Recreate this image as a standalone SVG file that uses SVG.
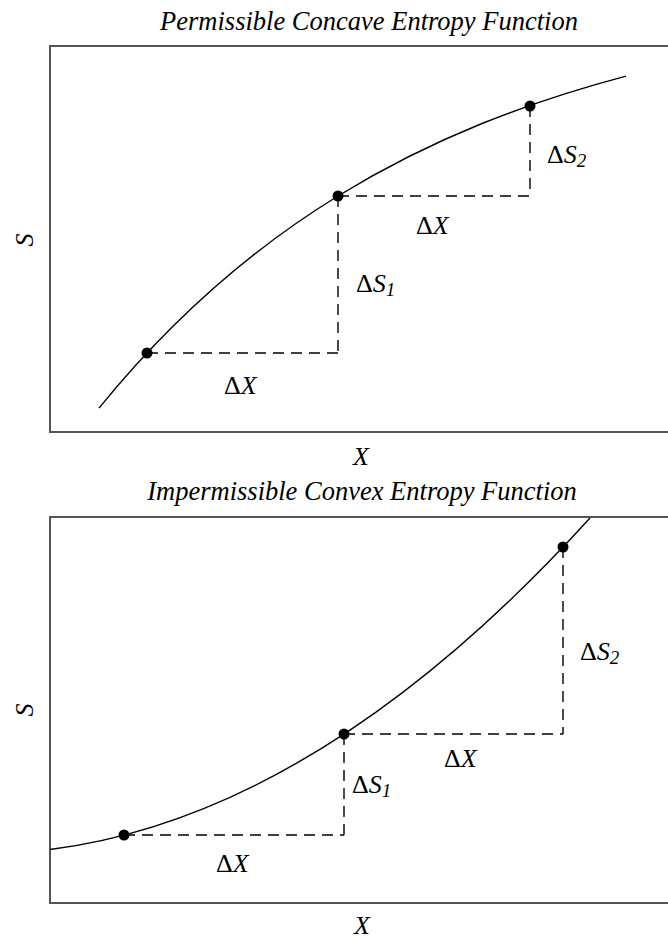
<svg xmlns="http://www.w3.org/2000/svg" width="668" height="940" viewBox="0 0 668 940" font-family="'Liberation Serif', 'DejaVu Serif', serif">
<style>
.frame{fill:none;stroke:#555;stroke-width:2}
.curve{fill:none;stroke:#000;stroke-width:1.4}
.dash{fill:none;stroke:#000;stroke-width:1.4;stroke-dasharray:11 7}
.dot{fill:#000}
text{font-family:'Liberation Serif','DejaVu Serif',serif;font-size:26px;fill:#000}
.it{font-style:italic}
.title{font-style:italic;font-size:26.5px;text-anchor:middle}
.sub{font-size:19px;font-style:italic}
</style>
<rect width="668" height="940" fill="#fff"/>
<g id="panel-top">
  <text class="title" x="369" y="30">Permissible Concave Entropy Function</text>
  <rect class="frame" x="50" y="46" width="640" height="386"/>
  <text class="it" transform="translate(33,240) rotate(-90)" text-anchor="middle">S</text>
  <text class="it" x="361" y="465" text-anchor="middle">X</text>
  <path id="curve-top" class="curve" d="M99,408.1 C178.67,310 258.33,244.95 338,196 C434,137 530,101.6 626,76.1"/>
</g>
<g id="connectors-top">
  <path class="dash" d="M147,353 H338"/>
  <path class="dash" d="M338,196 V353"/>
  <path class="dash" d="M338,196 H530"/>
  <path class="dash" d="M530,106 V196"/>
</g>
<g id="points-top">
  <circle class="dot" cx="147" cy="353" r="5.5"/>
  <circle class="dot" cx="338" cy="196" r="5.5"/>
  <circle class="dot" cx="530" cy="106" r="5.5"/>
</g>
<g id="labels-top">
  <text x="224" y="394">Δ<tspan class="it">X</tspan></text>
  <text x="416" y="234">Δ<tspan class="it">X</tspan></text>
  <text x="356" y="292">Δ<tspan class="it">S</tspan><tspan class="sub" dy="4">1</tspan></text>
  <text x="547" y="163">Δ<tspan class="it">S</tspan><tspan class="sub" dy="4">2</tspan></text>
</g>
<g id="panel-bottom">
  <text class="title" x="362" y="500">Impermissible Convex Entropy Function</text>
  <rect class="frame" x="50" y="517" width="640" height="386"/>
  <text class="it" transform="translate(33,710) rotate(-90)" text-anchor="middle">S</text>
  <text class="it" x="362" y="934" text-anchor="middle">X</text>
  <path id="curve-bottom" class="curve" d="M50,849.5 Q320,814.9 590,518"/>
</g>
<g id="connectors-bottom">
  <path class="dash" d="M124,835 H344"/>
  <path class="dash" d="M344,734 V835"/>
  <path class="dash" d="M344,734 H563"/>
  <path class="dash" d="M563,547 V734"/>
</g>
<g id="points-bottom">
  <circle class="dot" cx="124" cy="835" r="5.5"/>
  <circle class="dot" cx="344" cy="734" r="5.5"/>
  <circle class="dot" cx="563" cy="547" r="5.5"/>
</g>
<g id="labels-bottom">
  <text x="216" y="872">Δ<tspan class="it">X</tspan></text>
  <text x="444" y="767">Δ<tspan class="it">X</tspan></text>
  <text x="352" y="793">Δ<tspan class="it">S</tspan><tspan class="sub" dy="4">1</tspan></text>
  <text x="580" y="660">Δ<tspan class="it">S</tspan><tspan class="sub" dy="4">2</tspan></text>
</g>
</svg>
